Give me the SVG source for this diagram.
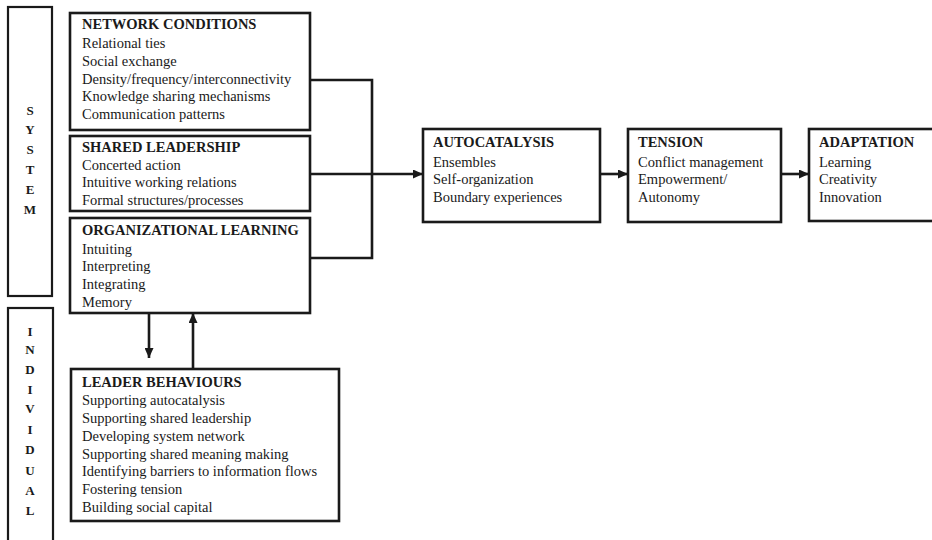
<svg xmlns="http://www.w3.org/2000/svg" width="932" height="540" viewBox="0 0 932 540">
<style>
.box{fill:#fff;stroke:#1a1a1a;stroke-width:2.6}
.side{fill:#fff;stroke:#1a1a1a;stroke-width:2.2}
.t{font-family:"Liberation Serif","Times New Roman",serif;font-size:14.5px;fill:#1a1a1a}
.h{font-weight:bold}
.v{font-family:"Liberation Serif","Times New Roman",serif;font-size:13px;font-weight:bold;fill:#1a1a1a;text-anchor:middle}
.c{fill:none;stroke:#1a1a1a;stroke-width:2.6}
</style>
<defs>
<marker id="ah" markerUnits="userSpaceOnUse" markerWidth="10" markerHeight="9" refX="10" refY="4.5" orient="auto">
<path d="M0,0 L10,4.5 L0,9 z" fill="#1a1a1a"/>
</marker>
</defs>
<rect width="932" height="540" fill="#fff"/>
<g id="system">
<rect class="side" x="8" y="7" width="44" height="289"/>
<text class="v"><tspan x="30" y="115">S</tspan><tspan x="30" y="134">Y</tspan><tspan x="30" y="154">S</tspan><tspan x="30" y="174">T</tspan><tspan x="30" y="194">E</tspan><tspan x="30" y="214">M</tspan></text>
</g>
<g id="individual">
<rect class="side" x="8" y="308" width="45" height="245"/>
<text class="v"><tspan x="30" y="336">I</tspan><tspan x="30" y="354">N</tspan><tspan x="30" y="374">D</tspan><tspan x="30" y="394">I</tspan><tspan x="30" y="413">V</tspan><tspan x="30" y="434">I</tspan><tspan x="30" y="454">D</tspan><tspan x="30" y="475">U</tspan><tspan x="30" y="495">A</tspan><tspan x="30" y="515">L</tspan></text>
</g>
<g id="connectors">
<polyline class="c" points="310,80 372,80 372,258 310,258"/>
<line class="c" x1="310" y1="174" x2="423" y2="174" marker-end="url(#ah)"/>
<line class="c" x1="600" y1="174" x2="628" y2="174" marker-end="url(#ah)"/>
<line class="c" x1="781" y1="174" x2="809" y2="174" marker-end="url(#ah)"/>
<line class="c" x1="149" y1="313" x2="149" y2="358" marker-end="url(#ah)"/>
<line class="c" x1="193" y1="369" x2="193" y2="313" marker-end="url(#ah)"/>
</g>
<g id="network">
<rect class="box" x="70" y="13" width="240" height="117"/>
<text class="t"><tspan class="h" x="82" y="29">NETWORK CONDITIONS</tspan><tspan x="82" y="48">Relational ties</tspan><tspan x="82" y="66">Social exchange</tspan><tspan x="82" y="83.5">Density/frequency/interconnectivity</tspan><tspan x="82" y="101">Knowledge sharing mechanisms</tspan><tspan x="82" y="119">Communication patterns</tspan></text>
</g>
<g id="shared">
<rect class="box" x="70" y="136" width="240" height="75"/>
<text class="t"><tspan class="h" x="82" y="152">SHARED LEADERSHIP</tspan><tspan x="82" y="169.5">Concerted action</tspan><tspan x="82" y="187">Intuitive working relations</tspan><tspan x="82" y="204.5">Formal structures/processes</tspan></text>
</g>
<g id="org">
<rect class="box" x="70" y="218" width="240" height="95"/>
<text class="t"><tspan class="h" x="82" y="235">ORGANIZATIONAL LEARNING</tspan><tspan x="82" y="253.5">Intuiting</tspan><tspan x="82" y="271">Interpreting</tspan><tspan x="82" y="288.5">Integrating</tspan><tspan x="82" y="306.5">Memory</tspan></text>
</g>
<g id="leader">
<rect class="box" x="71" y="369" width="268" height="152"/>
<text class="t"><tspan class="h" x="82" y="386.5">LEADER BEHAVIOURS</tspan><tspan x="82" y="405">Supporting autocatalysis</tspan><tspan x="82" y="423">Supporting shared leadership</tspan><tspan x="82" y="441">Developing system network</tspan><tspan x="82" y="458.5">Supporting shared meaning making</tspan><tspan x="82" y="476">Identifying barriers to information flows</tspan><tspan x="82" y="494">Fostering tension</tspan><tspan x="82" y="511.5">Building social capital</tspan></text>
</g>
<g id="autocatalysis">
<rect class="box" x="423" y="129" width="177" height="93"/>
<text class="t"><tspan class="h" x="433" y="147">AUTOCATALYSIS</tspan><tspan x="433" y="166.5">Ensembles</tspan><tspan x="433" y="184">Self-organization</tspan><tspan x="433" y="202">Boundary experiences</tspan></text>
</g>
<g id="tension">
<rect class="box" x="628" y="129" width="153" height="93"/>
<text class="t"><tspan class="h" x="638" y="147">TENSION</tspan><tspan x="638" y="166.5">Conflict management</tspan><tspan x="638" y="184">Empowerment/</tspan><tspan x="638" y="202">Autonomy</tspan></text>
</g>
<g id="adaptation">
<rect class="box" x="809" y="129" width="140" height="92"/>
<text class="t"><tspan class="h" x="819" y="147">ADAPTATION</tspan><tspan x="819" y="166.5">Learning</tspan><tspan x="819" y="184">Creativity</tspan><tspan x="819" y="202">Innovation</tspan></text>
</g>
</svg>
